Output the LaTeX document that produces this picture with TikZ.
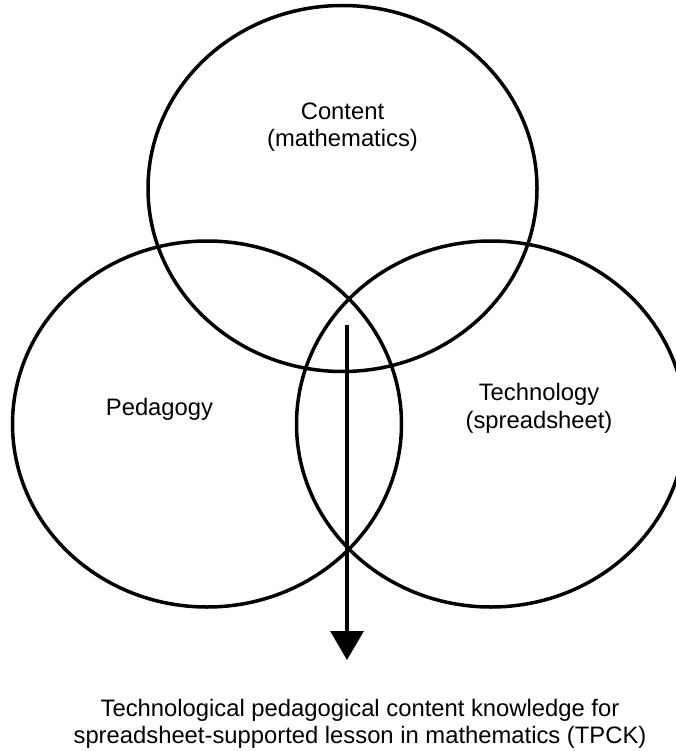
\documentclass[tikz,border=0pt]{standalone}
\usepackage{fontspec}
\setmainfont{Liberation Sans}
\usetikzlibrary{shapes.geometric,arrows.meta}

\begin{document}
\begin{tikzpicture}[x=1pt, y=-1pt, line width=3.5pt, knowledge/.style={ellipse, draw, minimum width=389pt, minimum height=366pt}, labeltext/.style={align=center, font=\fontsize{23.8}{27.5}\selectfont}]
  \useasboundingbox (0,0) rectangle (676,751);
  % the three knowledge domains
  \node[knowledge] (content) at (342.5,188.5) {};
  \node[knowledge] (pedagogy) at (207,424) {};
  \node[knowledge] (technology) at (491,424) {};
  \node[labeltext] (contentlabel) at (342.5,127) {Content\\(mathematics)};
  \node[labeltext] (pedagogylabel) at (159.5,409.5) {Pedagogy};
  \node[labeltext] (technologylabel) at (539,408.5) {Technology\\(spreadsheet)};
  % intersection points down to TPCK
  \coordinate (arrowtop) at (347,325);
  \coordinate (arrowtip) at (347,660);
  \draw[-{Triangle[width=33pt,length=29pt]}] (arrowtop) -- (arrowtip);
  \node[labeltext] (tpck) at (360,724) {Technological pedagogical content knowledge for\\spreadsheet-supported lesson in mathematics (TPCK)};
\end{tikzpicture}
\end{document}
